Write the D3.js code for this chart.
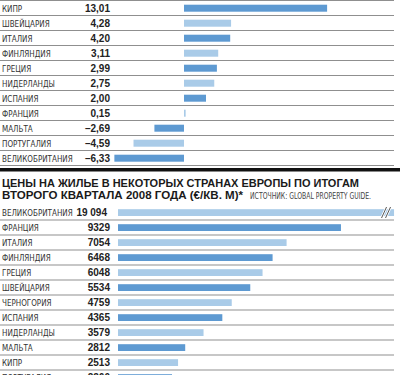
<!DOCTYPE html>
<html><head><meta charset="utf-8">
<script src="https://cdn.jsdelivr.net/npm/d3@7"></script>
<style>body{margin:0;background:#fff}svg{display:block}</style>
</head><body>
<script>
// Top chart: price change (%)
const topCountries = ["КИПР","ШВЕЙЦАРИЯ","ИТАЛИЯ","ФИНЛЯНДИЯ","ГРЕЦИЯ","НИДЕРЛАНДЫ","ИСПАНИЯ","ФРАНЦИЯ","МАЛЬТА","ПОРТУГАЛИЯ","ВЕЛИКОБРИТАНИЯ"];
const topValues = [13.01,4.28,4.20,3.11,2.99,2.75,2.00,0.15,-2.69,-4.59,-6.33];
const topLabels = ["13,01","4,28","4,20","3,11","2,99","2,75","2,00","0,15","–2,69","–4,59","–6,33"];

// Bottom chart: prices €/sq.m
const botCountries = ["ВЕЛИКОБРИТАНИЯ","ФРАНЦИЯ","ИТАЛИЯ","ФИНЛЯНДИЯ","ГРЕЦИЯ","ШВЕЙЦАРИЯ","ЧЕРНОГОРИЯ","ИСПАНИЯ","НИДЕРЛАНДЫ","МАЛЬТА","КИПР","ПОРТУГАЛИЯ"];
const botValues = [19094,9329,7054,6468,6048,5534,4759,4365,3579,2812,2513,2260];
const botLabels = ["19 094","9329","7054","6468","6048","5534","4759","4365","3579","2812","2513","2260"];

const titleLines = ["ЦЕНЫ НА ЖИЛЬЕ В НЕКОТОРЫХ СТРАНАХ ЕВРОПЫ ПО ИТОГАМ","ВТОРОГО КВАРТАЛА 2008 ГОДА (€/КВ. М)*"];
const sourceText = "ИСТОЧНИК: GLOBAL PROPERTY GUIDE.";

const W = 400, H = 375;
const dark = "#5e9ad2", light = "#a9cbe8";
const lineCol = "#8f8f8f";
const nameFont = "'Liberation Sans Narrow','DejaVu Sans Condensed','Arial Narrow',sans-serif";
const valFont = "'Liberation Sans',Arial,sans-serif";

const svg = d3.select("body").append("svg").attr("width", W).attr("height", H);

// condense the country names to the narrow look of the reference
function condense(sel, k) {
  sel.each(function () {
    const w = this.getComputedTextLength();
    d3.select(this).attr("textLength", w * k).attr("lengthAdjust", "spacingAndGlyphs");
  });
}

// ---------- top chart ----------
const topY = d3.scaleBand().domain(topCountries).range([0.5, 165.5]).padding(0);
const topX = d3.scaleLinear().domain([-7, 14]).range([107, 338]);
const gTop = svg.append("g");

gTop.selectAll("line.sep").data(d3.range(topCountries.length + 1)).join("line")
  .attr("x1", 0).attr("x2", 394)
  .attr("y1", i => 0.5 + i * topY.bandwidth()).attr("y2", i => 0.5 + i * topY.bandwidth())
  .attr("stroke", lineCol).attr("stroke-width", 1);

gTop.selectAll("rect").data(topCountries).join("rect")
  .attr("x", (d, i) => Math.min(topX(0), topX(topValues[i])))
  .attr("width", (d, i) => Math.max(1, Math.abs(topX(topValues[i]) - topX(0))))
  .attr("y", d => topY(d) + topY.bandwidth() / 2 - 3.3)
  .attr("height", 7)
  .attr("fill", (d, i) => i % 2 === 0 ? dark : light);

gTop.selectAll("text.name").data(topCountries).join("text")
  .attr("class", "name")
  .attr("x", 2).attr("y", d => topY(d) + topY.bandwidth() / 2 + 4)
  .attr("font-family", nameFont).attr("font-size", 9.5).attr("fill", "#333")
  .text(d => d)
  .call(condense, 0.84);

gTop.selectAll("text.val").data(topLabels).join("text")
  .attr("class", "val")
  .attr("x", 110).attr("y", (d, i) => topY(topCountries[i]) + topY.bandwidth() / 2 + 4)
  .attr("text-anchor", "end")
  .attr("font-family", valFont).attr("font-weight", "bold").attr("font-size", 10).attr("fill", "#222")
  .text(d => d);

// thick divider
svg.append("rect").attr("x", 0).attr("y", 168).attr("width", W).attr("height", 3.5).attr("fill", "#111");

// ---------- title ----------
svg.append("text").attr("x", 2).attr("y", 186.5)
  .attr("font-family", valFont).attr("font-weight", "bold").attr("font-size", 11.5).attr("fill", "#1a1a1a")
  .attr("textLength", 357).attr("lengthAdjust", "spacingAndGlyphs")
  .text(titleLines[0]);
svg.append("text").attr("x", 2).attr("y", 198.5)
  .attr("font-family", valFont).attr("font-weight", "bold").attr("font-size", 11.5).attr("fill", "#1a1a1a")
  .attr("textLength", 241).attr("lengthAdjust", "spacingAndGlyphs")
  .text(titleLines[1]);
svg.append("text").attr("x", 250).attr("y", 198.5)
  .attr("font-family", nameFont).attr("font-size", 8).attr("fill", "#444")
  .attr("textLength", 121).attr("lengthAdjust", "spacingAndGlyphs")
  .text(sourceText);

// ---------- bottom chart ----------
const botY = d3.scaleBand().domain(botCountries).range([205, 385]).padding(0);
const botX = d3.scaleLinear().domain([0, 10000]).range([118, 357]);
const breakValue = 11550;
const gBot = svg.append("g");

gBot.selectAll("line.sep").data(d3.range(1, botCountries.length)).join("line")
  .attr("x1", 0).attr("x2", 394)
  .attr("y1", i => 205 + i * botY.bandwidth()).attr("y2", i => 205 + i * botY.bandwidth())
  .attr("stroke", lineCol).attr("stroke-width", 1);

gBot.selectAll("rect").data(botCountries).join("rect")
  .attr("x", botX(0))
  .attr("width", (d, i) => botX(Math.min(botValues[i], breakValue)) - botX(0))
  .attr("y", d => botY(d) + botY.bandwidth() / 2 - 3.3)
  .attr("height", 6.8)
  .attr("fill", (d, i) => i % 2 === 0 ? light : dark);

// break marks on the truncated bar
const brokenIdx = botValues.map((v, i) => v > breakValue ? i : -1).filter(i => i >= 0);
brokenIdx.forEach(i => {
  const cy = botY(botCountries[i]) + botY.bandwidth() / 2;
  const bx = botX(breakValue) - 10;
  [0, 4].forEach(off => {
    gBot.append("line")
      .attr("x1", bx + off - 2.5).attr("y1", cy + 5.5).attr("x2", bx + off + 2.5).attr("y2", cy - 5.5)
      .attr("stroke", "#fff").attr("stroke-width", 2.6);
    gBot.append("line")
      .attr("x1", bx + off - 2.5).attr("y1", cy + 5.5).attr("x2", bx + off + 2.5).attr("y2", cy - 5.5)
      .attr("stroke", "#444").attr("stroke-width", 0.9);
  });
});

gBot.selectAll("text.name").data(botCountries).join("text")
  .attr("class", "name")
  .attr("x", 2).attr("y", d => botY(d) + botY.bandwidth() / 2 + 3.5)
  .attr("font-family", nameFont).attr("font-size", 9.5).attr("fill", "#333")
  .text(d => d)
  .call(condense, 0.84);

gBot.selectAll("text.val").data(botLabels).join("text")
  .attr("class", "val")
  .attr("x", (d, i) => i === 0 ? 107 : 110)
  .attr("y", (d, i) => botY(botCountries[i]) + botY.bandwidth() / 2 + 3.5)
  .attr("text-anchor", "end")
  .attr("font-family", valFont).attr("font-weight", "bold").attr("font-size", 10).attr("fill", "#222")
  .text(d => d);
</script>
</body></html>
